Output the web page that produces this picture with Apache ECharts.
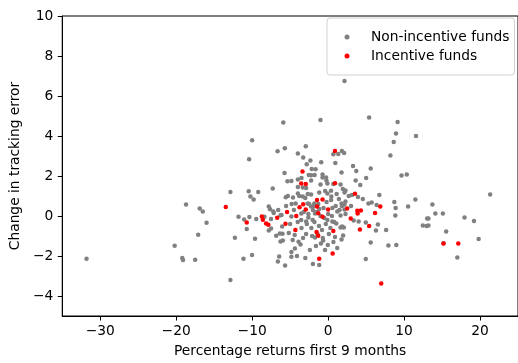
<!DOCTYPE html>
<html><head><meta charset="utf-8">
<script src="https://cdn.jsdelivr.net/npm/echarts@6/dist/echarts.min.js"></script>
<style>html,body{margin:0;padding:0;background:#fff}#c{width:518px;height:363px}</style>
</head><body><div id="c"></div>
<script>
const xTicks = [-30, -20, -10, 0, 10, 20];
const yTicks = [-4, -2, 0, 2, 4, 6, 8, 10];
const seriesNames = ['Non-incentive funds', 'Incentive funds'];
const nonIncentive = [
[-18.7,0.58],[-16.9,0.38],[-16.5,0.22],[-16.0,-0.34],[-17.1,-0.94],[-20.2,-1.49],[-19.2,-2.1],[-19.1,-2.2],[-17.5,-2.19],[-31.8,-2.14],
[-5.9,4.67],[-10.0,3.79],[-6.65,3.24],[-5.7,3.39],[-10.4,2.84],[-2.94,3.49],[-3.98,3.12],[-3.28,2.92],[-2.81,2.59],[-2.33,2.77],[-2.16,2.35],[-1.65,2.34],[-5.74,2.15],[-2.24,2.04],[-3.5,1.9],[-3.98,1.82],[-5.35,1.74],[-4.83,1.75],[-2.24,1.77],[-3.98,1.45],[-3.33,1.42],[-2.89,1.4],[-7.29,1.37],
[-12.86,1.2],[-10.45,1.24],[-10.23,0.97],[-9.8,0.82],[-9.2,1.2],[-5.57,0.94],[-11.79,-0.04],[-11.05,-0.17],[-10.36,-0.05],[-10.71,-0.65],[-9.46,-0.15],[-8.38,-0.04],[-7.81,0.47],[-7.64,0.34],[-7.16,0.15],[-7.51,-0.15],[-7.81,-0.72],[-7.51,-0.62],[-6.26,0.04],[-6.05,-0.52],[-6.83,-0.99],[-6.35,-0.87],[-6.0,-0.89],[-5.96,-1.22],[-6.26,-1.27],[-6.44,-2.02],[-6.61,-2.27],[-5.66,-2.47],[-4.83,-2.04],[-4.83,-1.8],[-4.37,-1.62],[-3.89,-1.29],[-3.63,-1.42],[-4.66,-1.2],[-5.18,-0.85],[-4.4,-0.95],[-12.27,-1.09],[-9.62,-1.14],[-10.01,-1.95],[-11.14,-2.14],[-12.86,-3.2],[-5.53,0.5],[-1.17,-2.45],
[1.34,3.1],[1.81,3.25],[-0.91,2.69],[-2.55,2.05],[-1.77,2.05],[1.77,2.17],[3.28,2.5],[-0.73,1.93],[-0.22,1.77],[-1.0,1.57],[-0.09,1.62],[1.64,1.57],[1.94,1.35],[2.16,1.18],[2.72,1.0],[3.15,1.05],[-1.17,1.18],[-0.39,1.25],[0.39,1.26],[-0.09,1.13],[0.43,0.98],[1.12,1.1],[1.42,0.85],[1.77,0.63],[2.29,0.72],[-2.68,1.1],[-2.24,1.08],[-2.68,0.63],[-2.24,0.47],[-1.72,0.13],[-1.17,0.35],[0.56,0.4],[1.21,0.22],[1.64,0.03],[2.16,0.33],[-2.59,-0.08],[-2.03,-0.2],[-2.89,-0.28],[-0.09,-0.2],[0.56,-0.28],[1.08,-0.37],[1.85,-0.53],[-3.54,0.13],
[-3.98,1.12],[-3.33,0.97],[-4.62,0.92],[-4.27,0.63],[-1.81,0.63],[-7.21,0.22],[-6.57,0.3],[-6.13,0.05],[-4.83,-0.03],[-3.54,-0.2],
[2.16,6.75],[-1.0,4.8],[5.4,4.92],[9.15,4.7],[8.94,4.12],[11.57,4.0],[8.64,3.7],[8.2,3.02],[0.69,3.09],[2.11,3.15],[0.95,2.65],[3.71,2.25],[5.61,2.38],[-0.73,2.08],[-0.26,1.93],[3.63,1.78],[5.01,1.9],[4.23,1.55],[9.67,2.02],[10.36,2.07],
[0.69,1.6],[2.29,1.28],[3.93,0.95],[4.57,0.85],[6.74,1.05],[8.72,0.7],[8.89,0.4],[10.53,0.48],[11.49,0.82],[8.85,0.02],[12.47,-0.48],[12.95,-0.5],[13.04,-0.12],[6.39,0.55],[5.31,0.63],[5.74,0.67],[7.64,-0.7],[6.3,-0.72],[6.56,-0.43],[5.61,-1.33],[7.94,-1.48],[8.98,-1.45],[4.96,-2.15],[1.77,-1.18],[1.98,-0.98],[1.64,-0.58],[2.07,-0.57],[-0.04,-1.45],[-0.95,-1.37],[-0.65,-1.22],[0.91,-1.05],[-1.72,-1.08],[4.02,-0.28],[4.96,-0.33],[3.37,-0.23],[2.29,0.1],[1.81,0.5],[2.16,0.58],[3.02,0.5],
[21.33,1.08],[13.73,0.58],[14.12,0.12],[15.11,0.12],[13.21,-0.12],[13.21,-0.47],[17.96,-0.08],[19.21,-0.25],[15.54,-0.77],[19.82,-1.15],[17.01,-2.07],[15.2,-1.36],
[-3.0,0.9],[-2.5,0.6],[-2.0,0.3],[-1.5,0.2],[-1.0,0.0],[-0.5,-0.1],[0.0,0.1],[0.5,0.0],[-2.8,-0.4],[-2.2,-0.6],[-1.8,-0.3],[-1.2,-0.5],[-0.8,-0.7],[-0.3,-0.4],[0.3,-0.6],[0.8,-0.3],[-3.5,-0.6],[-4.0,-0.3],[-4.5,0.3],[-3.2,0.2],[-2.6,0.1],[-1.9,0.5],[-1.3,0.6],[-0.6,0.4],[-0.2,0.7],[0.4,0.8],[1.0,0.5],[1.5,0.3],[-3.8,1.0],[-2.9,-0.9],[-2.1,-1.0],[-1.4,-0.9],[-0.7,-1.1],[0.1,-0.9],[0.7,-1.3],[-3.3,-1.1],[-5.0,-0.4],[-4.8,0.6],[-5.3,1.0],[-1.6,-1.5],[-2.4,-1.7],[-3.0,-2.1],[-0.4,-1.7],[1.2,-1.6],[-4.1,-2.0],[-2.0,-2.4]
];
const incentive = [
[-3.37,2.22],[-3.54,1.62],[-2.94,1.6],[-13.47,0.45],[-10.71,-0.32],[-8.72,-0.02],[-8.59,-0.19],[-8.16,-0.37],[-7.86,-0.44],[-6.7,-0.09],[-5.4,0.2],[-5.61,-0.39],[-4.19,0.0],[-3.76,0.44],[-3.28,0.59],[-2.94,0.32],[-1.46,0.8],[-1.46,0.47],[-1.3,0.14],[-1.52,-0.8],[-1.3,-0.99],[-1.17,-2.14],[-4.31,-0.7],[0.91,3.25],[0.91,1.64],[-0.73,0.82],[0.0,0.33],[2.5,0.38],[3.84,0.26],[3.54,1.11],[2.98,-0.12],[-0.73,-0.04],[4.31,0.27],[3.89,0.13],[6.18,0.15],[6.87,0.48],[5.4,-0.5],[4.19,-0.68],[0.69,-0.75],[0.6,-1.87],[6.99,-3.38],[15.19,-1.38],[17.14,-1.37]
];
const FONT = 'DejaVu Sans';
const FS = 13.8;
const fmt = v => String(v).replace('-', '\u2212');
const chart = echarts.init(document.getElementById('c'), null, {renderer: 'canvas'});
chart.setOption({
  animation: false,
  backgroundColor: '#fff',
  grid: {left: 59, top: 16, right: -4, bottom: 47, show: true, borderColor: '#000', borderWidth: 1, backgroundColor: 'transparent'},
  legend: {
    left: 327, top: 18, orient: 'vertical',
    padding: [9.5, 5, 9.5, 17.5], itemGap: 0,
    itemWidth: 5, itemHeight: 5, icon: 'circle',
    borderColor: '#d0d0d0', borderWidth: 1, borderRadius: 3,
    backgroundColor: 'rgba(255,255,255,0.8)',
    textStyle: {fontFamily: FONT, fontSize: FS, color: '#000', lineHeight: 19, padding: [0, 0, 0, 16.5]},
    data: seriesNames
  },
  xAxis: {
    type: 'value', min: -35, max: 25,
    name: 'Percentage returns first 9 months', nameLocation: 'middle', nameGap: 28,
    nameTextStyle: {fontFamily: FONT, fontSize: FS, color: '#000'},
    splitLine: {show: false},
    axisLine: {show: true, onZero: false, lineStyle: {color: '#000', width: 1}},
    axisTick: {show: true, length: 4.5, customValues: xTicks, lineStyle: {color: '#000', width: 1}},
    axisLabel: {customValues: xTicks, formatter: fmt, margin: 8, fontFamily: FONT, fontSize: FS, color: '#000'}
  },
  yAxis: {
    type: 'value', min: -5, max: 10,
    name: 'Change in tracking error', nameLocation: 'middle', nameGap: 36,
    nameTextStyle: {fontFamily: FONT, fontSize: FS, color: '#000'},
    splitLine: {show: false},
    axisLine: {show: true, onZero: false, lineStyle: {color: '#000', width: 1}},
    axisTick: {show: true, length: 4.5, customValues: yTicks, lineStyle: {color: '#000', width: 1}},
    axisLabel: {customValues: yTicks, formatter: fmt, margin: 9, fontFamily: FONT, fontSize: FS, color: '#000'}
  },
  series: [
    {name: seriesNames[0], type: 'scatter', data: nonIncentive, symbol: 'circle', symbolSize: 4.5,
     itemStyle: {color: '#808080', opacity: 1}, z: 2},
    {name: seriesNames[1], type: 'scatter', data: incentive, symbol: 'circle', symbolSize: 4.5,
     itemStyle: {color: '#ff0000', opacity: 1}, z: 3}
  ]
});
</script></body></html>
